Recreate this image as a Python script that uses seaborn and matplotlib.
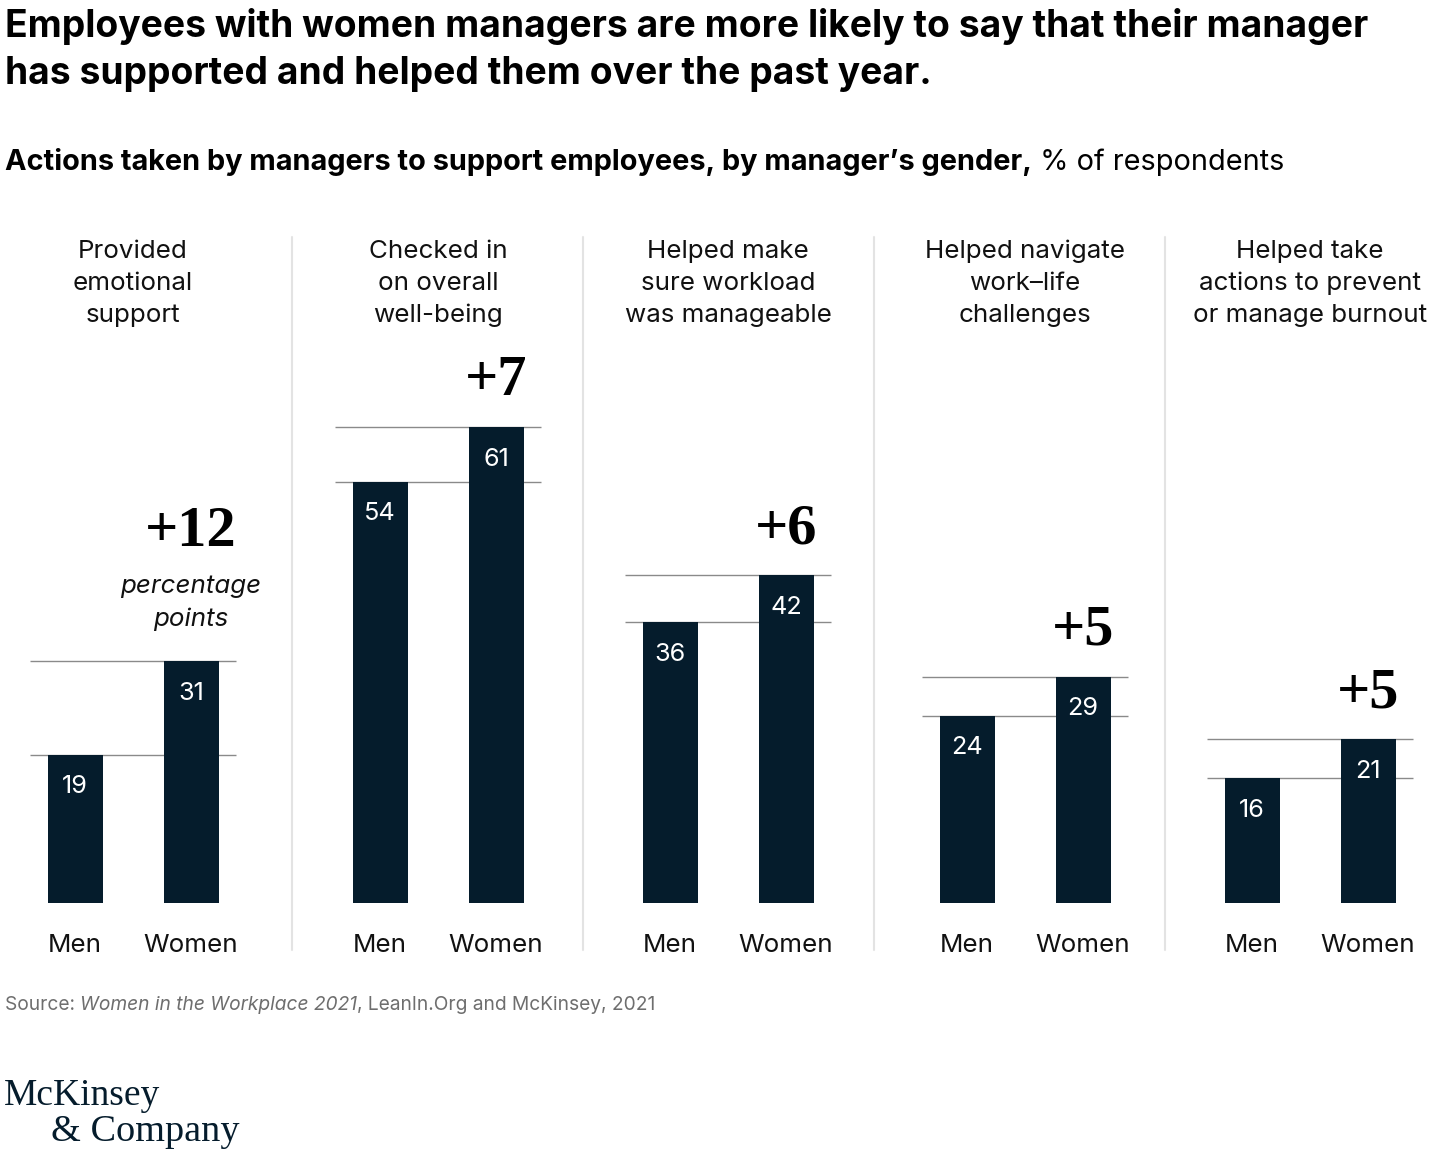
import matplotlib
matplotlib.use("Agg")
import matplotlib.pyplot as plt
import matplotlib.transforms as mtransforms
from matplotlib.lines import Line2D
import seaborn as sns

# ---------------- data ----------------
categories = [
    "Provided\nemotional\nsupport",
    "Checked in\non overall\nwell-being",
    "Helped make\nsure workload\nwas manageable",
    "Helped navigate\nwork\u2013life\nchallenges",
    "Helped take\nactions to prevent\nor manage burnout",
]
groups = ["Men", "Women"]
men_values = [19, 54, 36, 24, 16]
women_values = [31, 61, 42, 29, 21]

title_lines = [
    "Employees with women managers are more likely to say that their manager",
    "has supported and helped them over the past year.",
]
subtitle_bold = "Actions taken by managers to support employees, by manager\u2019s gender,"
subtitle_reg = " % of respondents"
source_parts = [("Source: ", "normal"), ("Women in the Workplace 2021", "italic"),
                (", LeanIn.Org and McKinsey, 2021", "normal")]

# ---------------- style ----------------
NAVY = "#051c2c"
SANS = ["Inter", "DejaVu Sans"]
SERIF = ["Liberation Serif", "DejaVu Serif"]
sns.set_theme(style="white")
plt.rcParams["font.family"] = SANS

W, H = 1456, 1163
fig = plt.figure(figsize=(W / 100, H / 100), dpi=100)
fig.patch.set_facecolor("white")


def fx(px):
    return px / W


def fy(py):
    return 1 - py / H


LABEL_FS = 18.7

# title
fig.text(fx(5), fy(50), "\n".join(title_lines), ha="left", va="center",
         fontsize=26.8, fontweight="bold", color="black", linespacing=1.36)

# subtitle in two styles
renderer = fig.canvas.get_renderer()
t1 = fig.text(fx(5), fy(162), subtitle_bold, ha="left", va="center",
              fontsize=20.8, fontweight="bold", color="black")
bb = t1.get_window_extent(renderer=renderer)
fig.text(bb.x1 / W, fy(162), subtitle_reg, ha="left", va="center",
         fontsize=20.8, color="black")

# layout of panels
men_centers = [75, 380, 670, 967, 1252]
step = 116
bar_w = 55 / step
px_per_unit = 7.8
base_px = 903
ymax = 80
left_pad = 0.6

for i, (cat, m, w) in enumerate(zip(categories, men_values, women_values)):
    left = men_centers[i] - left_pad * step
    width = (1 + 2 * left_pad) * step
    ax = fig.add_axes([fx(left), 1 - base_px / H, width / W, ymax * px_per_unit / H])
    sns.barplot(x=groups, y=[m, w], color=NAVY, width=bar_w, saturation=1,
                ax=ax, zorder=3)
    for p in ax.patches:
        p.set_zorder(3)
        p.set_edgecolor("none")
    ax.set_xlim(-left_pad, 1 + left_pad)
    ax.set_ylim(0, ymax)
    ax.set_facecolor("none")
    for s in ax.spines.values():
        s.set_visible(False)
    ax.set_yticks([])
    ax.set_ylabel("")
    ax.set_xlabel("")
    ax.tick_params(axis="x", length=0, pad=22, labelsize=LABEL_FS, labelcolor="#111111")
    # reference lines
    ax.hlines([m, w], -0.39, 1.39, color="#8a8a8a", lw=1.0, zorder=1)
    # value labels
    for xi, v in enumerate([m, w]):
        ax.text(xi, v - 32 / px_per_unit, f"{v}", ha="center", va="center",
                color="white", fontsize=18.2, zorder=4)
    # delta
    d = w - m
    if i == 0:
        ax.text(1, (903 - 532) / px_per_unit, f"+{d}", ha="center", va="center",
                fontsize=42, fontweight="bold", family=SERIF, color="black")
        ax.text(1, (903 - 603) / px_per_unit, "percentage\npoints", ha="center", va="center",
                fontsize=LABEL_FS, style="italic", color="#111111", linespacing=1.52)
    else:
        ax.text(1, w + 46 / px_per_unit, f"+{d}", ha="center", va="center",
                fontsize=42, fontweight="bold", family=SERIF, color="black")
    # category title
    trans = mtransforms.blended_transform_factory(ax.transData, fig.transFigure)
    ax.text(0.5, fy(283.5), cat, ha="center", va="center", transform=trans,
            fontsize=LABEL_FS, color="#111111", linespacing=1.5)

# separators
for sx in [292, 583, 874, 1165]:
    fig.add_artist(Line2D([fx(sx), fx(sx)], [fy(237), fy(950)],
                          color="#e3e3e3", lw=1.5))

# source
x = 5
for txt, st in source_parts:
    t = fig.text(fx(x), fy(1005), txt, ha="left", va="center", fontsize=13.8,
                 style=st, color="#6e6e6e")
    x = t.get_window_extent(renderer=renderer).x1

# logo
fig.text(fx(4), fy(1096), "McKinsey", ha="left", va="center", family=SERIF,
         fontsize=27, color=NAVY)
fig.text(fx(51), fy(1132), "& Company", ha="left", va="center", family=SERIF,
         fontsize=27.5, color=NAVY)

fig.savefig("out.png", dpi=100, facecolor="white")
